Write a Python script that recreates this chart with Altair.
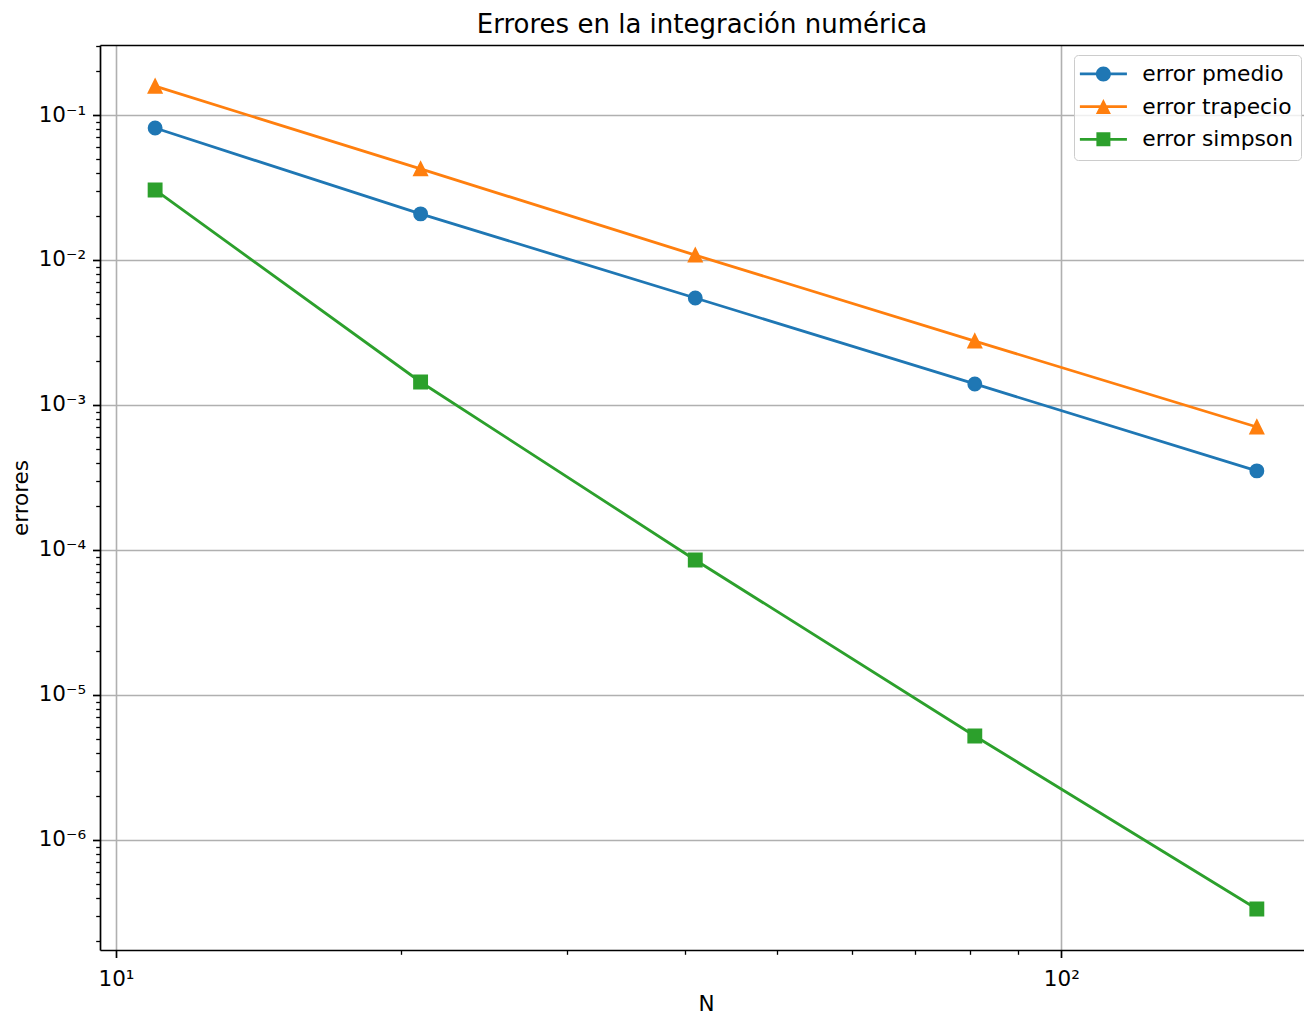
import altair as alt
import pandas as pd

# ---------------- data ----------------
N = [11, 21, 41, 81, 161]
error_pmedio = [0.0813, 0.0208, 0.00547, 0.001396, 0.000351]
error_trapecio = [0.158, 0.0425, 0.0108, 0.00276, 0.000705]
error_simpson = [0.0304, 0.00144, 0.0000853, 0.00000521, 0.000000334]

series_names = ["error pmedio", "error trapecio", "error simpson"]
series_colors = ["#1f77b4", "#ff7f0e", "#2ca02c"]

x_major_ticks = [10, 100]
x_minor_ticks = [20, 30, 40, 50, 60, 70, 80, 90]
y_major_ticks = [1e-1, 1e-2, 1e-3, 1e-4, 1e-5, 1e-6]
y_minor_ticks = [m * 10.0 ** k for k in range(-7, 0) for m in range(2, 10)
                 if 1.74e-7 <= m * 10.0 ** k <= 0.304]

x_domain = [9.618, 180.6]
y_domain = [1.74e-7, 0.304]

chart_title = "Errores en la integración numérica"
x_title = "N"
y_title = "errores"

rows = []
for name, vals in zip(series_names, [error_pmedio, error_trapecio, error_simpson]):
    for n, v in zip(N, vals):
        rows.append({"N": n, "error": v, "serie": name})
df = pd.DataFrame(rows)

FONT = "DejaVu Sans"
LBL = 21.5
LEG = 21.8

xs = alt.Scale(type="log", domain=x_domain, nice=False)
ys = alt.Scale(type="log", domain=y_domain, nice=False)
color_scale = alt.Scale(domain=series_names, range=series_colors)

x_axis = alt.Axis(
    values=x_major_ticks,
    labelExpr="'10' + (datum.value < 50 ? '¹' : '²')",
    orient="bottom", grid=True, gridColor="#b0b0b0", gridWidth=1.6,
    tickSize=7.5, tickWidth=1.7, tickColor="black",
    domainColor="black", domainWidth=1.7,
    labelPadding=11, labelFontSize=LBL, labelColor="black", labelFont=FONT,
    labelFlush=False, labelOverlap=False, labelBound=False,
    title=x_title, titleFont=FONT, titleFontSize=LBL, titleColor="black",
    titleFontWeight="normal", titleX=606, titleY=60,
    titleBaseline="alphabetic", titleAlign="center",
)
y_axis = alt.Axis(
    values=y_major_ticks,
    labelExpr="'10⁻' + ['', '¹', '²', '³', '⁴', '⁵', '⁶', '⁷'][round(-log(datum.value) / LN10)]",
    orient="left", grid=True, gridColor="#b0b0b0", gridWidth=1.6,
    tickSize=7.5, tickWidth=1.7, tickColor="black",
    domainColor="black", domainWidth=1.7,
    labelPadding=7, labelFontSize=LBL, labelColor="black", labelFont=FONT,
    labelFlush=False, labelOverlap=False, labelBound=False,
    title=y_title, titleFont=FONT, titleFontSize=LBL, titleColor="black",
    titleFontWeight="normal", titleAngle=270, titleX=-73, titleY=452.5,
    titleBaseline="alphabetic", titleAlign="center",
)

base = alt.Chart(df)

lines = base.mark_line(strokeWidth=2.8).encode(
    x=alt.X("N:Q", scale=xs, axis=x_axis),
    y=alt.Y("error:Q", scale=ys, axis=y_axis),
    color=alt.Color("serie:N", scale=color_scale, legend=None),
    detail="serie:N",
)

marker_paths = ["circle", "M0,-1L1,1L-1,1Z", "square"]
points = base.mark_point(filled=True, size=166, strokeWidth=2, opacity=1).encode(
    x=alt.X("N:Q", scale=xs, axis=None),
    y=alt.Y("error:Q", scale=ys, axis=None),
    color=alt.Color("serie:N", scale=color_scale, legend=None),
    stroke=alt.Stroke("serie:N", scale=color_scale, legend=None),
    shape=alt.Shape("serie:N", scale=alt.Scale(domain=series_names, range=marker_paths), legend=None),
)

# legend symbols: line segment with the marker in the middle (unit = 7px)
seg = "M-3.36,-0.2H3.36V0.2H-3.36Z"
legend_paths = [
    seg + "M1.07,0A1.07,1.07 0 1,1 -1.07,0A1.07,1.07 0 1,1 1.07,0Z",
    seg + "M0,-1.07L1.07,1.07L-1.07,1.07Z",
    seg + "M-1.0,-1.0H1.0V1.0H-1.0Z",
]
leg = alt.Legend(
    title=None, orient="none", legendX=974, legendY=10,
    fillColor="rgba(255,255,255,0.8)", strokeColor="#cccccc", cornerRadius=4,
    padding=8, symbolSize=196, symbolStrokeWidth=0, symbolOpacity=1,
    symbolOffset=10.5, labelOffset=28, rowPadding=9.7,
    labelFont=FONT, labelFontSize=LEG, labelColor="black", labelLimit=500,
    labelExpr="datum.label + '  '",
)
legend_layer = base.mark_point(filled=True, opacity=0, size=196).encode(
    x=alt.X("N:Q", scale=xs, axis=None),
    y=alt.Y("error:Q", scale=ys, axis=None),
    color=alt.Color("serie:N", scale=color_scale, legend=leg),
    shape=alt.Shape("serie:N", scale=alt.Scale(domain=series_names, range=legend_paths), legend=leg),
)

minor = base.mark_point(opacity=0).encode(
    x=alt.X("N:Q", scale=xs, axis=alt.Axis(
        values=x_minor_ticks, labels=False, grid=False, domain=False,
        tickSize=4.3, tickWidth=1.3, tickColor="black", title=None, orient="bottom")),
    y=alt.Y("error:Q", scale=ys, axis=alt.Axis(
        values=y_minor_ticks, labels=False, grid=False, domain=False,
        tickSize=4.3, tickWidth=1.3, tickColor="black", title=None, orient="left")),
)

# top frame line (matplotlib spine); the right spine lies outside the picture
top_frame = base.mark_point(opacity=0).encode(
    x=alt.X("N:Q", scale=xs, axis=alt.Axis(
        orient="top", labels=False, ticks=False, grid=False, domain=True,
        domainColor="black", domainWidth=1.7, title=None)),
    y=alt.Y("error:Q", scale=ys, axis=None),
)

chart = (
    alt.layer(lines, points, legend_layer, minor, top_frame)
    .resolve_scale(color="independent", shape="independent", stroke="independent")
    .resolve_axis(x="independent", y="independent")
    .properties(
        width=1204, height=905,
        padding={"left": 92, "top": 37, "right": 0, "bottom": 65},
        autosize=alt.AutoSizeParams(type="none"),
        title=alt.Title(chart_title, font=FONT, fontSize=26, fontWeight="normal",
                        color="black", anchor="middle", offset=7),
    )
    .configure(font=FONT)
    .configure_view(strokeWidth=0)
)

chart.save("out.html", embed_options={"renderer": "svg", "actions": False})
